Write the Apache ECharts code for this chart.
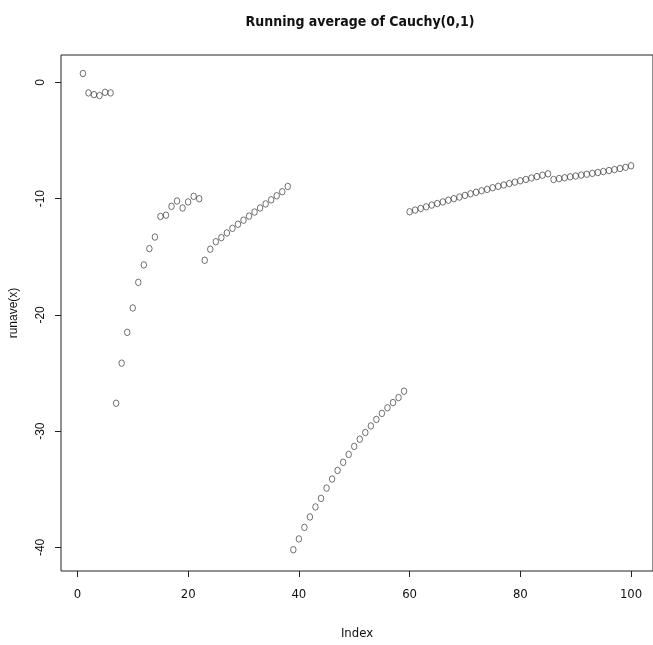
<!DOCTYPE html>
<html>
<head>
<meta charset="utf-8">
<title>Running average of Cauchy(0,1)</title>
<script src="https://cdn.jsdelivr.net/npm/echarts@6/dist/echarts.min.js"></script>
<style>
  html, body { margin: 0; padding: 0; background: #fff; }
  #chart { width: 653px; height: 645px; }
</style>
</head>
<body>
<div id="chart"></div>
<script>
// running average, index 1..100 in four runs
var runave1 = [0.77, -0.90, -1.05, -1.13, -0.85, -0.90, -27.6, -24.15, -21.5, -19.4, -17.2,
  -15.7, -14.3, -13.3, -11.53, -11.42, -10.66, -10.2, -10.8, -10.28, -9.8, -10.0];
var runave2 = [-15.3, -14.35, -13.7, -13.35, -12.95, -12.55, -12.2, -11.85, -11.5, -11.15,
  -10.8, -10.45, -10.1, -9.75, -9.4, -8.95];
var runave3 = [-40.2, -39.27, -38.28, -37.38, -36.52, -35.78, -34.9, -34.12, -33.38, -32.68,
  -32.0, -31.31, -30.69, -30.12, -29.55, -28.99, -28.47, -27.99, -27.54, -27.11, -26.56];
var runave4 = [-11.13, -10.98, -10.84, -10.7, -10.55, -10.42, -10.28, -10.13, -10.0, -9.86,
  -9.72, -9.58, -9.45, -9.32, -9.2, -9.06, -8.94, -8.82, -8.7, -8.58, -8.46, -8.35, -8.22,
  -8.1, -7.98, -7.86, -8.35, -8.27, -8.2, -8.12, -8.05, -7.97, -7.9, -7.82, -7.75, -7.67,
  -7.58, -7.5, -7.4, -7.3, -7.17];

var xTicks = [0, 20, 40, 60, 80, 100];
var yTicks = [-40, -30, -20, -10, 0];

var runave = runave1.concat(runave2, runave3, runave4);
var points = runave.map(function (v, i) { return [i + 1, v]; });

var narrow = "'Liberation Sans Narrow', 'DejaVu Sans Condensed', sans-serif";
var regular = "'Liberation Sans', Arial, sans-serif";

var myChart = echarts.init(document.getElementById("chart"));
var option = {
  animation: false,
  backgroundColor: "#fff",
  title: {
    text: "Running average of Cauchy(0,1)",
    left: 355,
    top: 10,
    textAlign: "center",
    textStyle: { fontFamily: narrow, fontSize: 14, fontWeight: "bold", color: "#111" }
  },
  grid: {
    left: 57,
    top: 55,
    width: 602,
    height: 521,
    show: true,
    borderColor: "#222",
    borderWidth: 1
  },
  xAxis: {
    type: "value",
    min: -2.96,
    max: 103.96,
    name: "Index",
    nameLocation: "middle",
    nameGap: 56,
    nameTextStyle: { fontFamily: narrow, fontSize: 13, color: "#111" },
    axisLine: { show: false, onZero: false },
    splitLine: { show: false },
    axisTick: { show: true, length: 6, customValues: xTicks, lineStyle: { color: "#222" } },
    axisLabel: { customValues: xTicks, margin: 17, fontFamily: narrow, fontSize: 13, color: "#111" }
  },
  yAxis: {
    type: "value",
    min: -42.03,
    max: 2.36,
    name: "runave(x)",
    nameLocation: "middle",
    nameGap: 41,
    nameRotate: 90,
    nameTextStyle: { fontFamily: regular, fontSize: 12, color: "#111" },
    axisLine: { show: false, onZero: false },
    splitLine: { show: false },
    axisTick: { show: true, length: 6, customValues: yTicks, lineStyle: { color: "#222" } },
    axisLabel: { customValues: yTicks, rotate: 90, margin: 14, fontFamily: regular, fontSize: 12, color: "#111" }
  },
  series: [
    {
      name: "runave(x)",
      type: "scatter",
      data: points,
      symbol: "circle",
      symbolSize: [5.5, 6.5],
      itemStyle: { color: "rgba(255,255,255,0)", borderColor: "#222", borderWidth: 0.8 }
    }
  ]
};
myChart.setOption(option);
</script>
</body>
</html>
